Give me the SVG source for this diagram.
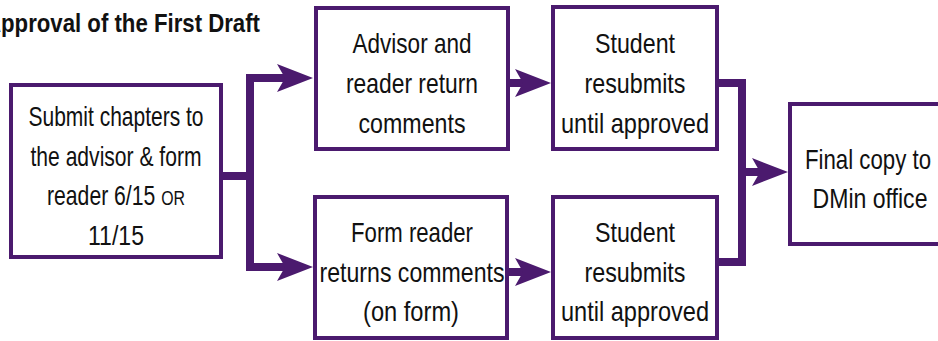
<svg xmlns="http://www.w3.org/2000/svg" width="938" height="341" viewBox="0 0 938 341">
  <style>
    .box { fill: #ffffff; stroke: #4b1a6e; stroke-width: 4; }
    .lbl { font-family: "Liberation Sans Narrow", "Liberation Sans", Arial, sans-serif; font-size: 28px; fill: #111111; text-anchor: middle; }
    .title { font-family: "Liberation Sans Narrow", "Liberation Sans", Arial, sans-serif; font-size: 26px; font-weight: bold; fill: #111111; }
    .conn { fill: none; stroke: #4b1a6e; stroke-width: 8; stroke-linejoin: miter; stroke-linecap: butt; }
    .sc { font-size: 21px; }
  </style>
  <defs>
    <marker id="arrow" markerUnits="userSpaceOnUse" viewBox="-8 -14 36 28" markerWidth="36" markerHeight="28" refX="0" refY="0" orient="auto" overflow="visible">
      <path d="M-8,-14 L28,0 L-8,14 L0,0 Z" fill="#4b1a6e"/>
    </marker>
  </defs>
  <rect width="938" height="341" fill="#ffffff"/>

  <text class="title" x="-15" y="32" textLength="275" lengthAdjust="spacingAndGlyphs">Approval of the First Draft</text>

  <g id="connectors">
    <path class="conn" d="M223,176 H250"/>
    <path class="conn" d="M250,180 V78 H285" marker-end="url(#arrow)"/>
    <path class="conn" d="M250,172 V267 H285" marker-end="url(#arrow)"/>
    <path class="conn" d="M510,83 H523" marker-end="url(#arrow)"/>
    <path class="conn" d="M509,272 H523" marker-end="url(#arrow)"/>
    <path class="conn" d="M719,83 H742 V262 H719"/>
    <path class="conn" d="M742,172 H760" marker-end="url(#arrow)"/>
  </g>

  <g id="submit">
    <rect class="box" x="11" y="85" width="210" height="172"/>
    <text class="lbl" x="116" y="126" textLength="175" lengthAdjust="spacingAndGlyphs">Submit chapters to</text>
    <text class="lbl" x="116" y="166" textLength="171" lengthAdjust="spacingAndGlyphs">the advisor &amp; form</text>
    <text class="lbl" x="116" y="205" textLength="138" lengthAdjust="spacingAndGlyphs">reader 6/15 <tspan class="sc">OR</tspan></text>
    <text class="lbl" x="116" y="245" textLength="56" lengthAdjust="spacingAndGlyphs">11/15</text>
  </g>

  <g id="advisor">
    <rect class="box" x="316" y="8" width="192" height="141"/>
    <text class="lbl" x="412" y="53" textLength="119" lengthAdjust="spacingAndGlyphs">Advisor and</text>
    <text class="lbl" x="412" y="93" textLength="132" lengthAdjust="spacingAndGlyphs">reader return</text>
    <text class="lbl" x="412" y="133" textLength="107" lengthAdjust="spacingAndGlyphs">comments</text>
  </g>

  <g id="resubmit-top">
    <rect class="box" x="553" y="7" width="164" height="142"/>
    <text class="lbl" x="635" y="53" textLength="80" lengthAdjust="spacingAndGlyphs">Student</text>
    <text class="lbl" x="635" y="93" textLength="101" lengthAdjust="spacingAndGlyphs">resubmits</text>
    <text class="lbl" x="635" y="133" textLength="148" lengthAdjust="spacingAndGlyphs">until approved</text>
  </g>

  <g id="form-reader">
    <rect class="box" x="315" y="197" width="192" height="141"/>
    <text class="lbl" x="412" y="242" textLength="122" lengthAdjust="spacingAndGlyphs">Form reader</text>
    <text class="lbl" x="412" y="282" textLength="185" lengthAdjust="spacingAndGlyphs">returns comments</text>
    <text class="lbl" x="411" y="321" textLength="96" lengthAdjust="spacingAndGlyphs">(on form)</text>
  </g>

  <g id="resubmit-bottom">
    <rect class="box" x="553" y="197" width="164" height="141"/>
    <text class="lbl" x="635" y="242" textLength="80" lengthAdjust="spacingAndGlyphs">Student</text>
    <text class="lbl" x="635" y="282" textLength="101" lengthAdjust="spacingAndGlyphs">resubmits</text>
    <text class="lbl" x="635" y="321" textLength="148" lengthAdjust="spacingAndGlyphs">until approved</text>
  </g>

  <g id="final">
    <rect class="box" x="790" y="104" width="170" height="140"/>
    <text class="lbl" x="868" y="169" textLength="126" lengthAdjust="spacingAndGlyphs">Final copy to</text>
    <text class="lbl" x="870" y="208" textLength="115" lengthAdjust="spacingAndGlyphs">DMin office</text>
  </g>
</svg>
